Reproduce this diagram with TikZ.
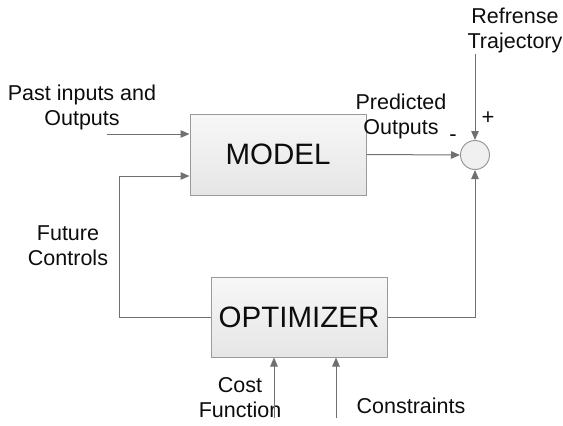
\documentclass[tikz,border=0pt]{standalone}
\usepackage{fontspec}
\setmainfont{Liberation Sans}
\usetikzlibrary{arrows.meta}
\definecolor{lineg}{HTML}{707070}
\definecolor{boxg}{HTML}{9A9A9A}
\definecolor{txt}{HTML}{0D0D0D}
\tikzset{
  blockbox/.style={draw=boxg, line width=1pt, top color=white!97!black, bottom color=white!90!black, minimum width=176pt, inner sep=0pt, font=\fontsize{29.5}{32}\selectfont, text=txt},
  sumnode/.style={circle, draw=boxg, line width=1pt, fill=white!94!black, minimum size=29pt, inner sep=0pt},
  lbl/.style={font=\fontsize{21.5}{25}\selectfont, text=txt, align=center, inner sep=0pt},
  sgn/.style={font=\fontsize{22}{24}\selectfont, text=txt, inner sep=0pt},
  arr/.style={draw=lineg, line width=1pt, -{Triangle[length=9pt,width=7.5pt]}},
  ln/.style={draw=lineg, line width=1pt}
}
\begin{document}
\begin{tikzpicture}[x=1pt,y=-1pt]
\useasboundingbox (0,0) rectangle (563,426);
\node[blockbox, minimum height=81pt] (model) at (278,154.5) {MODEL};
\node[blockbox, minimum height=80pt] (opt) at (299,317) {OPTIMIZER};
\node[sumnode] (sum) at (475,155) {};
% labels
\node[lbl] (ref) at (515,30) {Refrense\\Trajectory};
\node[lbl] (pred) at (401,116) {Predicted\\Outputs};
\node[lbl] (past) at (82,107) {Past inputs and\\Outputs};
\node[lbl] (fut) at (68,246) {Future\\Controls};
\node[lbl] (cost) at (240,398) {Cost\\Function};
\node[lbl] (cons) at (411,406) {Constraints};
\node[sgn] (plus) at (488,118) {+};
\node[sgn] (minus) at (453,138) {-};
% coordinates
\coordinate (pin) at (107,134);
\coordinate (fcorner) at (119,176);
\coordinate (refin) at (475,54);
\coordinate (c1) at (274,418);
\coordinate (c2) at (336,418);
% connectors
\draw[arr] (pin) -- (pin -| model.west);
\draw[arr] (opt.west) -| (fcorner) -- (fcorner -| model.west);
\draw[arr] (model.east) -- (sum.west);
\draw[arr] (refin) -- (sum.north);
\draw[arr] (opt.east) -| (sum.south);
\draw[arr] (c1) -- (c1 |- opt.south);
\draw[arr] (c2) -- (c2 |- opt.south);
\end{tikzpicture}
\end{document}
